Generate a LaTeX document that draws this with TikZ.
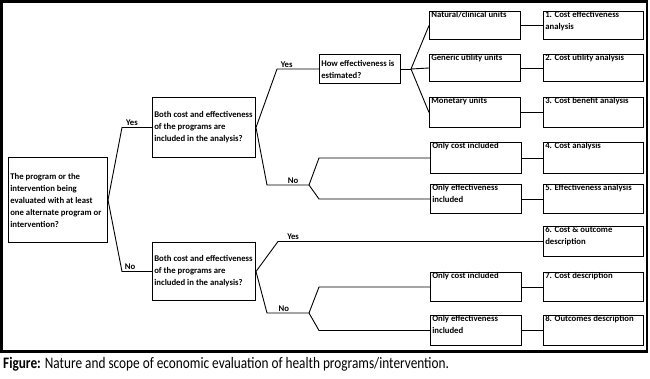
\documentclass[tikz,border=0pt]{standalone}
\usepackage{fontspec}
\setmainfont{Carlito}
\newfontfamily\capfont[FakeStretch=0.83]{Carlito}
\newcommand{\bfnt}{\fontsize{8.7}{12}\selectfont\bfseries}
\newcommand{\tbox}[4]{\begin{minipage}[c][#2pt][#3]{#1pt}\raggedright\leftskip=1.8pt\relax #4\end{minipage}}
\tikzset{
  box/.style={draw, line width=1pt, inner sep=0pt, anchor=north west, font=\bfnt},
  conn/.style={line width=0.9pt},
  lbl/.style={font=\bfnt, inner sep=1pt},
}
\begin{document}
\begin{tikzpicture}[x=1pt, y=-1pt]
\useasboundingbox (0,0) rectangle (650,378);
\draw[line width=2.7pt] (1.3,1.3) rectangle (647,351.5);

% boxes
\node[box] (root) at (8,157) {\tbox{99}{85}{c}{The program or the\\intervention being\\evaluated with at least\\one alternate program or\\intervention?}};
\node[box] (both1) at (152,97) {\tbox{103}{60}{c}{Both cost and effectiveness\\of the programs are\\included in the analysis?}};
\node[box] (both2) at (152,242) {\tbox{103}{58}{c}{Both cost and effectiveness\\of the programs are\\included in the analysis?}};
\node[box] (how) at (319,54) {\tbox{81}{29}{c}{How effectiveness is\\estimated?}};
\node[box] (nat) at (429,11) {\tbox{91}{28}{t}{Natural/clinical units}};
\node[box] (gen) at (429,54) {\tbox{91}{27}{t}{Generic utility units}};
\node[box] (mon) at (429,97) {\tbox{91}{30}{t}{Monetary units}};
\node[box] (oc1) at (430,142) {\tbox{91}{31}{t}{Only cost included}};
\node[box] (oe1) at (430,184) {\tbox{91}{29}{t}{Only effectiveness\\included}};
\node[box] (oc2) at (430,272) {\tbox{91}{29}{t}{Only cost included}};
\node[box] (oe2) at (430,315) {\tbox{91}{30}{t}{Only effectiveness\\included}};
\node[box] (r1) at (543,11) {\tbox{100}{28}{t}{1. Cost effectiveness\\analysis}};
\node[box] (r2) at (543,54) {\tbox{100}{27}{t}{2. Cost utility analysis}};
\node[box] (r3) at (543,97) {\tbox{100}{30}{t}{3. Cost benefit analysis}};
\node[box] (r4) at (543,142) {\tbox{100}{31}{t}{4. Cost analysis}};
\node[box] (r5) at (543,184) {\tbox{100}{29}{t}{5. Effectiveness analysis}};
\node[box] (r6) at (543,226) {\tbox{100}{30}{t}{6. Cost \& outcome\\description}};
\node[box] (r7) at (543,272) {\tbox{100}{29}{t}{7. Cost description}};
\node[box] (r8) at (543,315) {\tbox{100}{30}{t}{8. Outcomes description}};

% fork points
\coordinate (fh) at (411,69);
\coordinate (f1) at (309,185);
\coordinate (f2) at (309,313);

% connectors
\draw[conn] (root.east) -- ([xshift=-30pt]both1.west) -- node[lbl,pos=0.33,above]{Yes} (both1.west);
\draw[conn] (root.east) -- ([xshift=-30pt]both2.west) -- node[lbl,pos=0.27,above]{No} (both2.west);
\draw[conn] (both1.east) -- ([xshift=-42pt]how.west) -- node[lbl,pos=0.23,above]{Yes} (how.west);
\draw[conn] (both1.east) -- ([xshift=-42pt]f1) -- node[lbl,pos=0.62,above]{No} (f1);
\draw[conn] (f1) -- ([xshift=-111pt]oc1.west) -- (oc1.west);
\draw[conn] (f1) -- ([xshift=-111pt]oe1.west) -- (oe1.west);
\draw[conn] (how.east) -- (fh);
\draw[conn] (fh) -- (nat.west);
\draw[conn] (fh) -- (gen.west);
\draw[conn] (fh) -- (mon.west);
\draw[conn] (both2.east) -- ([xshift=-265pt]r6.west) -- node[lbl,pos=0.057,above]{Yes} (r6.west);
\draw[conn] (both2.east) -- ([xshift=-42pt]f2) -- node[lbl,pos=0.4,above]{No} (f2);
\draw[conn] (f2) -- ([xshift=-111pt]oc2.west) -- (oc2.west);
\draw[conn] (f2) -- ([xshift=-111pt]oe2.west) -- (oe2.west);
\foreach \a/\b in {nat/r1,gen/r2,mon/r3,oc1/r4,oe1/r5,oc2/r7,oe2/r8}
  \draw[conn] (\a.east) -- (\b.west);

% caption
\node[anchor=base west, inner sep=0pt] (cap) at (3,368) {\capfont\fontsize{16}{18}\selectfont\textbf{Figure:} Nature and scope of economic evaluation of health programs/intervention.};
\end{tikzpicture}
\end{document}
